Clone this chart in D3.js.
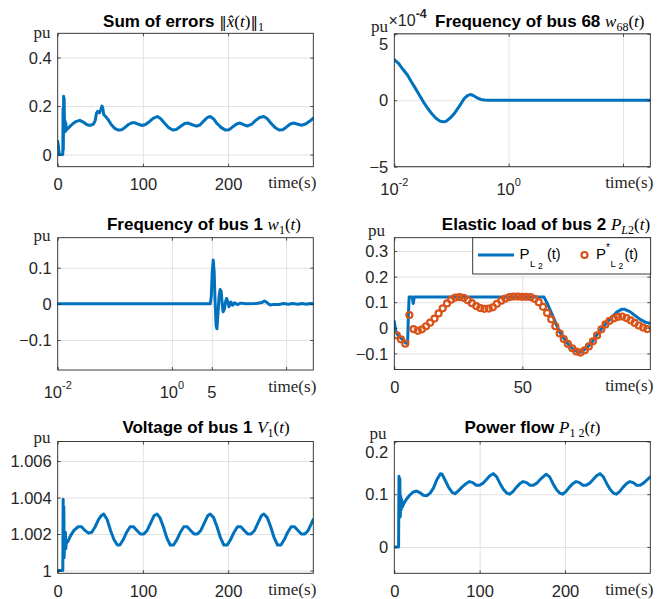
<!DOCTYPE html>
<html><head><meta charset="utf-8">
<script src="https://d3js.org/d3.v7.min.js"></script>
<style>
body{margin:0;background:#fff}
svg{display:block}
</style></head><body>
<svg id="fig" width="663" height="599"></svg>
<script>
// ---------- series ----------
// Sum of errors ||x^(t)||_1
const errT = [0, 1, 1.8, 4, 6, 6.3, 6.6, 7, 7.3, 7.6, 8, 8.5, 9, 9.5, 10, 12, 15, 18, 22, 26, 30, 34, 38, 42, 44, 45.5, 47, 49, 50.5, 52, 53, 54, 56, 59, 63, 67, 71, 75, 79, 83, 87, 91, 95, 99, 103, 107, 112, 117, 121, 125, 130, 135, 139, 144, 149, 153, 158, 163, 167, 171, 175, 179, 183, 187, 192, 197, 201, 205, 210, 214, 219, 223, 228, 232, 237, 242, 246, 250, 255, 260, 264, 268, 273, 277, 282, 286, 291, 296, 300];
const errV = [0.055, 0.03, 0.0, 0.0, 0.0, 0.19, 0.02, 0.24, 0.09, 0.23, 0.1, 0.14, 0.095, 0.13, 0.1, 0.108, 0.118, 0.128, 0.137, 0.141, 0.134, 0.124, 0.12, 0.126, 0.14, 0.17, 0.178, 0.172, 0.185, 0.2, 0.19, 0.165, 0.158, 0.145, 0.123, 0.108, 0.101, 0.102, 0.112, 0.124, 0.131, 0.131, 0.125, 0.12, 0.124, 0.134, 0.149, 0.157, 0.148, 0.131, 0.112, 0.101, 0.103, 0.116, 0.128, 0.13, 0.123, 0.117, 0.122, 0.137, 0.151, 0.157, 0.147, 0.128, 0.111, 0.101, 0.102, 0.113, 0.126, 0.13, 0.122, 0.118, 0.126, 0.14, 0.153, 0.157, 0.148, 0.13, 0.112, 0.101, 0.102, 0.112, 0.126, 0.13, 0.125, 0.121, 0.126, 0.138, 0.15];

// Frequency of bus 68 (units of 1e-4 pu), log time
const f68T = [0.01, 0.012, 0.014, 0.017, 0.0195, 0.023, 0.0274, 0.032, 0.0383, 0.045, 0.0535, 0.062, 0.07, 0.0785, 0.0853, 0.097, 0.112, 0.13, 0.147, 0.165, 0.19, 0.213, 0.235, 0.257, 0.29, 0.327, 0.38, 0.43, 1, 10, 100, 300];
const f68V = [3.05, 2.75, 2.35, 1.9, 1.45, 0.95, 0.4, -0.1, -0.6, -1.0, -1.35, -1.55, -1.62, -1.6, -1.5, -1.3, -1.0, -0.6, -0.25, 0.1, 0.35, 0.43, 0.38, 0.28, 0.15, 0.06, 0.02, 0, 0, 0, 0, 0];

// Frequency of bus 1, log time
const f1T = [0.01, 4.7, 4.9, 5.1, 5.3, 5.5, 5.7, 5.95, 6.15, 6.4, 6.7, 7.0, 7.3, 7.6, 7.9, 8.3, 8.7, 9.1, 9.6, 10, 10.8, 11.6, 12.5, 14, 16, 20, 30, 38, 42, 46, 52, 60, 75, 90, 110, 130, 160, 190, 230, 260, 300];
const f1V = [0, 0, 0.02, 0.09, 0.121, 0.09, 0.01, -0.06, -0.069, -0.03, 0.02, 0.04, 0.035, 0.0, -0.022, -0.015, 0.006, 0.015, 0.005, -0.008, 0.005, -0.004, 0.003, -0.002, 0.002, 0, 0.001, 0.004, 0.008, 0.004, -0.003, -0.002, -0.002, 0.001, -0.001, 0.001, -0.001, 0.001, -0.001, 0.001, 0];

// Elastic load of bus 2: actual P_L2(t)
const loadT = [0, 0.5, 1.5, 3, 4.5, 5.2, 5.5, 5.8, 7, 7.4, 7.8, 58.5, 60, 61.5, 63, 64.5, 66.5, 68, 70, 71.8, 73, 75, 77, 79, 81, 83, 85, 87, 88.8, 90, 92, 94, 96, 98, 100];
const loadV = [0.025, -0.01, -0.03, -0.045, -0.06, -0.062, 0.05, 0.12, 0.12, 0.095, 0.12, 0.12, 0.09, 0.055, 0.02, -0.015, -0.045, -0.065, -0.085, -0.097, -0.095, -0.08, -0.06, -0.03, -0.003, 0.02, 0.042, 0.062, 0.072, 0.072, 0.063, 0.048, 0.033, 0.022, 0.017];
// Elastic load of bus 2: reference P*_L2(t)
const refT = [1.0, 2.6, 4.3, 5.9, 7.5, 9.2, 10.8, 12.4, 14.0, 15.7, 17.3, 18.9, 20.6, 22.2, 23.8, 25.5, 27.1, 28.7, 30.3, 32.0, 33.6, 35.2, 36.9, 38.5, 40.1, 41.8, 43.4, 45.0, 46.6, 48.3, 49.9, 51.5, 53.2, 54.8, 56.4, 58.1, 59.7, 61.3, 62.9, 64.6, 66.2, 67.8, 69.5, 71.1, 72.7, 74.4, 76.0, 77.6, 79.2, 80.9, 82.5, 84.1, 85.8, 87.4, 89.0, 90.7, 92.3, 93.9, 95.5, 97.2, 98.8];
const refV = [-0.03, -0.045, -0.062, 0.05, -0.005, -0.012, -0.006, 0.006, 0.02, 0.036, 0.056, 0.076, 0.095, 0.11, 0.118, 0.12, 0.117, 0.108, 0.096, 0.085, 0.077, 0.074, 0.075, 0.08, 0.094, 0.106, 0.114, 0.12, 0.122, 0.122, 0.121, 0.121, 0.12, 0.113, 0.1, 0.082, 0.058, 0.033, 0.006, -0.022, -0.044, -0.063, -0.08, -0.093, -0.097, -0.088, -0.073, -0.053, -0.03, -0.006, 0.013, 0.027, 0.037, 0.043, 0.044, 0.038, 0.029, 0.019, 0.009, 0.001, -0.005];

// Voltage of bus 1
const voltT = [0, 5.5, 6, 6.4, 6.8, 7.2, 7.6, 8, 8.5, 9, 9.5, 10, 12, 15, 19, 24, 28, 32, 36, 40, 44, 48, 51, 54, 58, 62, 66, 70, 73, 77, 81, 85, 89, 93, 97, 101, 105, 109, 113, 116.5, 120, 124, 128, 132, 136, 140, 144, 148, 152, 156, 160, 164, 168, 172, 176, 179, 183, 187, 191, 195, 199, 203, 207, 211, 215, 219, 223, 227, 231, 235, 239, 242, 246, 250, 254, 258, 262, 266, 270, 274, 278, 282, 286, 290, 294, 298, 300];
const voltV = [1.0, 1.0, 1.0, 1.0039, 1.0008, 1.0035, 1.0007, 1.002, 1.0013, 1.0021, 1.0012, 1.0015, 1.0016, 1.0019, 1.0022, 1.0024, 1.0024, 1.0022, 1.00205, 1.0021, 1.0024, 1.0028, 1.003, 1.0031, 1.0028, 1.0022, 1.0017, 1.0014, 1.0014, 1.0017, 1.0021, 1.0024, 1.0024, 1.0022, 1.002, 1.002, 1.0022, 1.0026, 1.003, 1.0031, 1.0029, 1.0024, 1.0018, 1.0014, 1.0014, 1.0017, 1.0021, 1.0024, 1.0024, 1.0022, 1.002, 1.002, 1.0022, 1.0026, 1.003, 1.0031, 1.0029, 1.0024, 1.0018, 1.0014, 1.0014, 1.0017, 1.0021, 1.0024, 1.0024, 1.0022, 1.002, 1.002, 1.0022, 1.0026, 1.003, 1.0031, 1.0029, 1.0024, 1.0018, 1.0014, 1.0014, 1.0017, 1.0021, 1.0024, 1.0024, 1.0022, 1.002, 1.002, 1.0022, 1.0026, 1.0028];

// Power flow P_12
const flowT = [0, 5, 5.5, 6, 6.5, 7, 7.5, 8, 8.5, 9.5, 11, 14, 18, 22, 26, 30, 34, 38, 42, 46, 50, 54, 56, 60, 64, 68, 71, 75, 79, 84, 88, 92, 96, 100, 104, 108, 112, 116, 120, 124, 128, 132, 135, 139, 143, 147, 151, 155, 159, 163, 167, 171, 175, 178, 182, 186, 190, 194, 197, 201, 205, 209, 213, 217, 221, 225, 229, 233, 237, 241, 245, 249, 253, 257, 260, 264, 268, 272, 276, 280, 284, 288, 292, 296, 300];
const flowV = [0, 0, 0.134, 0.06, 0.13, 0.057, 0.096, 0.07, 0.09, 0.076, 0.082, 0.09, 0.098, 0.104, 0.106, 0.103, 0.098, 0.097, 0.102, 0.112, 0.128, 0.139, 0.138, 0.125, 0.112, 0.103, 0.101, 0.106, 0.113, 0.12, 0.124, 0.122, 0.117, 0.117, 0.121, 0.128, 0.135, 0.139, 0.133, 0.12, 0.109, 0.102, 0.1, 0.105, 0.113, 0.12, 0.124, 0.122, 0.117, 0.117, 0.121, 0.128, 0.134, 0.138, 0.133, 0.12, 0.109, 0.102, 0.1, 0.105, 0.113, 0.12, 0.124, 0.122, 0.117, 0.117, 0.121, 0.128, 0.135, 0.139, 0.133, 0.12, 0.109, 0.102, 0.1, 0.105, 0.113, 0.12, 0.124, 0.122, 0.117, 0.117, 0.121, 0.127, 0.133];

// ---------- axis ticks ----------
const linTimeTicks = [0, 100, 200];
const loadTimeTicks = [0, 50];
const logTicks68 = [0.01, 1, 100];
const logLabels68 = [["10", "-2"], ["10", "0"], null];
const logTicks1 = [0.01, 1, 5, 100];
const logLabels1 = [["10", "-2"], ["10", "0"], ["5", ""], null];
const errTicks = [0, 0.2, 0.4];
const f68Ticks = [-5, 0, 5];
const f1Ticks = [-0.1, 0, 0.1];
const loadTicks = [-0.1, 0, 0.1, 0.2, 0.3];
const voltTicks = [1, 1.002, 1.004, 1.006];
const voltLabels = ["1", "1.002", "1.004", "1.006"];
const flowTicks = [0, 0.1, 0.2];

// ---------- styling ----------
const BLUE = "#0072BD", ORANGE = "#D95319", INK = "#262626", GRID = "#e2e2e2";
const SANS = "'Liberation Sans', Arial, Helvetica, sans-serif";
const SERIF = "'Liberation Serif', 'Times New Roman', serif";
const svg = d3.select("#fig");
let clipId = 0;

function makePanel(c) {
  const {L, R, T, B} = c.box;
  const x = (c.log ? d3.scaleLog() : d3.scaleLinear()).domain(c.xDomain).range([L, R]);
  const y = d3.scaleLinear().domain(c.yDomain).range([B, T]);
  const g = svg.append("g");

  g.append("rect").attr("x", L).attr("y", T).attr("width", R - L).attr("height", B - T).attr("fill", "#fff");

  // grid
  const gx = g.append("g").attr("transform", `translate(0,${B})`)
    .call(d3.axisBottom(x).tickValues(c.xGrid).tickSize(-(B - T)).tickFormat(""));
  const gy = g.append("g").attr("transform", `translate(${L},0)`)
    .call(d3.axisLeft(y).tickValues(c.yTicks).tickSize(-(R - L)).tickFormat(""));
  [gx, gy].forEach(s => { s.select(".domain").remove(); s.selectAll("line").attr("stroke", GRID).attr("stroke-width", 1); });

  // clip region
  const id = "clip" + (clipId++);
  g.append("clipPath").attr("id", id).append("rect")
    .attr("x", L).attr("y", T).attr("width", R - L).attr("height", B - T);
  const plot = g.append("g").attr("clip-path", `url(#${id})`);
  c.draw(plot, x, y);

  // box and inward ticks
  const tk = 3;
  const axes = [
    [d3.axisBottom(x).tickValues(c.xTicks), `translate(0,${B})`],
    [d3.axisTop(x).tickValues(c.xTicks), `translate(0,${T})`],
    [d3.axisLeft(y).tickValues(c.yTicks), `translate(${L},0)`],
    [d3.axisRight(y).tickValues(c.yTicks), `translate(${R},0)`]
  ];
  axes.forEach(([ax, tr]) => {
    const s = g.append("g").attr("transform", tr).call(ax.tickSize(-tk).tickFormat(""));
    s.select(".domain").remove();
    s.selectAll("line").attr("stroke", INK).attr("stroke-width", 0.8);
  });
  g.append("rect").attr("x", L).attr("y", T).attr("width", R - L).attr("height", B - T)
    .attr("fill", "none").attr("stroke", INK).attr("stroke-width", 0.9);

  // y tick labels
  const yl = g.append("g").attr("transform", `translate(${L},0)`)
    .call(d3.axisLeft(y).tickValues(c.yTicks).tickSize(0).tickPadding(6)
      .tickFormat((d, i) => c.yLabels ? c.yLabels[i] : d3.format("")(d)));
  yl.select(".domain").remove();
  yl.selectAll("text").attr("font-family", SANS).attr("font-size", 16.5).attr("fill", INK)
    .attr("dy", d => Math.abs(y(d) - T) < 2 ? "0.95em" : "0.34em");

  // x tick labels
  if (c.log) {
    c.xTicks.forEach((v, i) => {
      const lab = c.xLabels[i];
      if (!lab) return;
      const t = g.append("text").attr("x", x(v)).attr("y", B + 28)
        .attr("text-anchor", "middle").attr("font-family", SANS).attr("font-size", 16.5).attr("fill", INK);
      t.append("tspan").text(lab[0]);
      if (lab[1]) t.append("tspan").attr("font-size", 11).attr("dy", -9).text(lab[1]);
    });
  } else {
    const xl = g.append("g").attr("transform", `translate(0,${B})`)
      .call(d3.axisBottom(x).tickValues(c.xLabelTicks).tickSize(0).tickPadding(12).tickFormat(d3.format("")));
    xl.select(".domain").remove();
    xl.selectAll("text").attr("font-family", SANS).attr("font-size", 16.5).attr("fill", INK);
  }

  // unit and time labels
  g.append("text").attr("x", c.pu[0]).attr("y", c.pu[1]).attr("text-anchor", "end")
    .attr("font-family", SERIF).attr("font-size", 17).attr("fill", INK).text("pu");
  g.append("text").attr("x", R + 3).attr("y", B + 21.5).attr("text-anchor", "end")
    .attr("font-family", SERIF).attr("font-size", 17).attr("fill", INK).text("time(s)");

  // title
  const tt = g.append("text").attr("x", c.title.x).attr("y", c.title.y)
    .attr("text-anchor", c.title.anchor || "middle").attr("fill", "#000");
  tt.append("tspan").attr("font-family", SANS).attr("font-weight", "bold").attr("font-size", 17)
    .text(c.title.bold + "\u00a0");
  c.title.math.forEach(p => {
    const s = tt.append("tspan").attr("font-family", p.fam || SERIF).attr("font-size", p.size || 17)
      .attr("font-style", p.it ? "italic" : "normal").text(p.t);
    if (p.dy) s.attr("dy", p.dy);
  });
  return {g, x, y};
}

function lineOf(T, V, x, y) {
  return d3.line().x(d => x(d[0])).y(d => y(d[1]))(d3.zip(T, V));
}
function blueLine(T, V) {
  return (p, x, y) => p.append("path").attr("d", lineOf(T, V, x, y))
    .attr("fill", "none").attr("stroke", BLUE).attr("stroke-width", 3)
    .attr("stroke-linejoin", "round").attr("stroke-linecap", "round");
}

const NORM = "'DejaVu Serif', serif";

// ---- Sum of errors ----
makePanel({
  box: {L: 57.7, R: 313.3, T: 33.3, B: 166.7},
  xDomain: [0, 300], xGrid: [100, 200], xTicks: linTimeTicks, xLabelTicks: linTimeTicks,
  yDomain: [-0.05, 0.5], yTicks: errTicks,
  pu: [50.5, 38],
  title: {x: 183.5, y: 26.5, bold: "Sum of errors", math: [
    {t: "\u2016", fam: NORM, size: 15}, {t: "x\u0302", it: true}, {t: "("}, {t: "t", it: true}, {t: ")"},
    {t: "\u2016", fam: NORM, size: 15}, {t: "1", size: 12, dy: 4}]},
  draw: blueLine(errT, errV)
});

// ---- Frequency of bus 68 ----
const p68 = makePanel({
  box: {L: 394.3, R: 650.3, T: 33.8, B: 166.7}, log: true,
  xDomain: [0.01, 300], xGrid: [1, 100], xTicks: logTicks68, xLabels: logLabels68,
  yDomain: [-5, 5], yTicks: f68Ticks,
  pu: [388, 31.5],
  title: {x: 435, y: 26.5, anchor: "start", bold: "Frequency of bus 68", math: [
    {t: "w", it: true}, {t: "68", size: 12, dy: 4}, {t: "(", dy: -4}, {t: "t", it: true}, {t: ")"}]},
  draw: blueLine(f68T, f68V)
});
{
  const ex = p68.g.append("text").attr("x", 388.5).attr("y", 26).attr("font-family", SANS).attr("fill", INK);
  ex.append("tspan").attr("font-size", 16).text("\u00d710");
  ex.append("tspan").attr("font-size", 12.5).attr("font-weight", "bold").attr("dy", -8).text("-4");
}

// ---- Frequency of bus 1 ----
makePanel({
  box: {L: 57.7, R: 313.3, T: 237.7, B: 370}, log: true,
  xDomain: [0.01, 300], xGrid: [1, 5, 100], xTicks: logTicks1, xLabels: logLabels1,
  yDomain: [-0.183, 0.183], yTicks: f1Ticks,
  pu: [50.5, 240.5],
  title: {x: 204, y: 229.5, bold: "Frequency of bus 1", math: [
    {t: "w", it: true}, {t: "1", size: 12, dy: 4}, {t: "(", dy: -4}, {t: "t", it: true}, {t: ")"}]},
  draw: blueLine(f1T, f1V)
});

// ---- Elastic load of bus 2 ----
const pl = makePanel({
  box: {L: 394.3, R: 650.3, T: 237.7, B: 369.5},
  xDomain: [0, 100], xGrid: [50], xTicks: loadTimeTicks, xLabelTicks: loadTimeTicks,
  yDomain: [-0.163, 0.352], yTicks: loadTicks,
  pu: [385, 236],
  title: {x: 546, y: 229.5, bold: "Elastic load of bus 2", math: [
    {t: "P", it: true}, {t: "L", it: true, size: 12, dy: 4}, {t: "2", size: 12}, {t: "(", dy: -4}, {t: "t", it: true}, {t: ")"}]},
  draw: (p, x, y) => {
    blueLine(loadT, loadV)(p, x, y);
    p.selectAll("circle.ref").data(d3.zip(refT, refV)).join("circle").attr("class", "ref")
      .attr("cx", d => x(d[0])).attr("cy", d => y(d[1])).attr("r", 3)
      .attr("fill", "none").attr("stroke", ORANGE).attr("stroke-width", 2.2);
  }
});
{
  // legend
  const lg = pl.g.append("g");
  lg.append("rect").attr("x", 472.7).attr("y", 237.7).attr("width", 178).attr("height", 36.3)
    .attr("fill", "#fff").attr("stroke", INK).attr("stroke-width", 0.9);
  lg.append("line").attr("x1", 478).attr("x2", 514).attr("y1", 255).attr("y2", 255)
    .attr("stroke", BLUE).attr("stroke-width", 3);
  lg.append("circle").attr("cx", 584.5).attr("cy", 255).attr("r", 3)
    .attr("fill", "none").attr("stroke", ORANGE).attr("stroke-width", 2.2);
  const item = (x0, star) => {
    const put = (x, yy, size, s) => lg.append("text").attr("x", x).attr("y", yy).attr("font-size", size)
      .attr("font-family", SANS).attr("fill", "#000").text(s);
    put(x0, 259, 15, "P");
    if (star) put(x0 + 10, 251, 10, "*");
    put(x0 + (star ? 14.5 : 10.5), 266.5, 9.5, "L");
    put(x0 + (star ? 22.5 : 18.5), 268.5, 8.5, "2");
    put(x0 + (star ? 28.5 : 27.5), 259, 14.5, "(t)");
  };
  item(519.5, false);
  item(596, true);
}

// ---- Voltage of bus 1 ----
makePanel({
  box: {L: 57.7, R: 313.3, T: 441.5, B: 573.3},
  xDomain: [0, 300], xGrid: [100, 200], xTicks: linTimeTicks, xLabelTicks: linTimeTicks,
  yDomain: [0.99985, 1.00707], yTicks: voltTicks, yLabels: voltLabels,
  pu: [50.5, 442.5],
  title: {x: 206, y: 432.5, bold: "Voltage of bus 1", math: [
    {t: "V", it: true}, {t: "1", size: 12, dy: 4}, {t: "(", dy: -4}, {t: "t", it: true}, {t: ")"}]},
  draw: blueLine(voltT, voltV)
});

// ---- Power flow ----
makePanel({
  box: {L: 394.3, R: 650.3, T: 441.5, B: 573.3},
  xDomain: [0, 300], xGrid: [100, 200], xTicks: linTimeTicks, xLabelTicks: linTimeTicks,
  yDomain: [-0.05, 0.2], yTicks: flowTicks,
  pu: [386.5, 439],
  title: {x: 532.5, y: 432.5, bold: "Power flow", math: [
    {t: "P", it: true}, {t: "1 2", size: 12, dy: 4}, {t: "(", dy: -4}, {t: "t", it: true}, {t: ")"}]},
  draw: blueLine(flowT, flowV)
});
</script>
</body></html>
